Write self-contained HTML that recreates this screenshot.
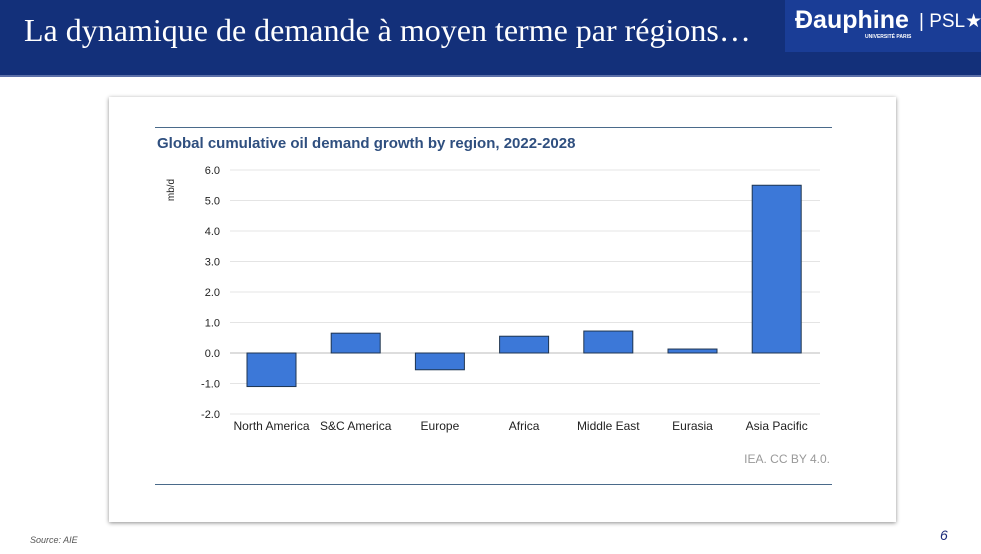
<!DOCTYPE html>
<html><head><meta charset="utf-8">
<style>
body{margin:0;width:981px;height:554px;overflow:hidden;background:#fff;position:relative;font-family:"Liberation Sans",sans-serif;}
#hdr{position:absolute;left:0;top:0;width:981px;height:75px;background:#13307a;}
#hdr .bot{position:absolute;left:0;top:75px;width:981px;height:2px;background:#5b6fa8;}
#title{position:absolute;left:24px;top:12px;font-family:"Liberation Serif",serif;font-size:32px;color:#fff;white-space:nowrap;}
#logo{position:absolute;left:785px;top:0;width:196px;height:52px;background:#1a3d96;white-space:nowrap;}
#logo .d{position:absolute;left:10px;top:6px;font-size:25px;font-weight:bold;color:#fff;}
#logo .u{position:absolute;left:80px;top:34px;font-size:5px;font-weight:bold;color:#fff;}
#logo .p{position:absolute;left:134px;top:10px;font-size:19px;color:#fff;}
#card{position:absolute;left:109px;top:97px;width:787px;height:425px;background:#fff;box-shadow:0 1px 4px rgba(0,0,0,.45);}
#src{position:absolute;left:30px;top:535px;font-size:9px;font-style:italic;color:#555;}
#pg{position:absolute;left:940px;top:527px;font-size:14px;font-style:italic;color:#1a2a7a;}
</style></head><body>
<div id="hdr"><div class="bot"></div>
<div id="title">La dynamique de demande à moyen terme par régions…</div>
<div id="logo"><span class="d">Ɖauphine</span><span class="u">UNIVERSITÉ PARIS</span><span class="p">| PSL★</span></div>
</div>
<div id="card"></div>
<svg id="chart" width="981" height="554" style="position:absolute;left:0;top:0">
<line x1="155" y1="127.5" x2="832" y2="127.5" stroke="#4a6a8a" stroke-width="1"/>
<line x1="155" y1="484.5" x2="832" y2="484.5" stroke="#4a6a8a" stroke-width="1"/>
<text x="157" y="148" font-size="15" font-weight="bold" fill="#2f4f7f">Global cumulative oil demand growth by region, 2022-2028</text>
<text transform="translate(174,190) rotate(-90)" text-anchor="middle" font-size="10" fill="#222">mb/d</text>
<text x="830" y="463" text-anchor="end" font-size="12" fill="#999">IEA. CC BY 4.0.</text>
<g id="grid"></g><g id="bars"></g><g id="labels"></g>
</svg>
<div id="src">Source: AIE</div>
<div id="pg">6</div>
<script>
const categories=["North America","S&C America","Europe","Africa","Middle East","Eurasia","Asia Pacific"];
const values=[-1.1,0.65,-0.55,0.55,0.72,0.13,5.5];
const ticks=[-2,-1,0,1,2,3,4,5,6];
const NS="http://www.w3.org/2000/svg";
const x0=230,x1=820,yMin=-2,yMax=6,yTop=170,yBot=414;
const y=v=>yBot-(v-yMin)/(yMax-yMin)*(yBot-yTop);
const step=84.2;
const cx=i=>271.5+i*step;
const g=document.getElementById('grid'),b=document.getElementById('bars'),l=document.getElementById('labels');
ticks.forEach(t=>{
 const ln=document.createElementNS(NS,'line');
 
 
 ln.setAttribute('x1',x0);ln.setAttribute('x2',x1);ln.setAttribute('y1',y(t));ln.setAttribute('y2',y(t));
 ln.setAttribute('stroke',t===0?'#bbb':'#e4e4e4');g.appendChild(ln);
 const tx=document.createElementNS(NS,'text');
 
 
 tx.setAttribute('x',220);tx.setAttribute('y',y(t)+4);tx.setAttribute('text-anchor','end');tx.setAttribute('font-size','11');tx.setAttribute('fill','#222');
 tx.textContent=t.toFixed(1);g.appendChild(tx);
});
categories.forEach((c,i)=>{
 const v=values[i],r=document.createElementNS(NS,'rect');
 
 
 r.setAttribute('x',cx(i)-24.5);r.setAttribute('width',49);
 r.setAttribute('y',Math.min(y(v),y(0)));r.setAttribute('height',Math.abs(y(v)-y(0)));
 r.setAttribute('fill','#3c78d8');r.setAttribute('stroke','#1f3550');r.setAttribute('stroke-width','1');b.appendChild(r);
 const tx=document.createElementNS(NS,'text');
 
 
 tx.setAttribute('x',cx(i));tx.setAttribute('y',430);tx.setAttribute('text-anchor','middle');tx.setAttribute('font-size','12');tx.setAttribute('fill','#222');
 tx.textContent=c;l.appendChild(tx);
});
</script>
</body></html>
